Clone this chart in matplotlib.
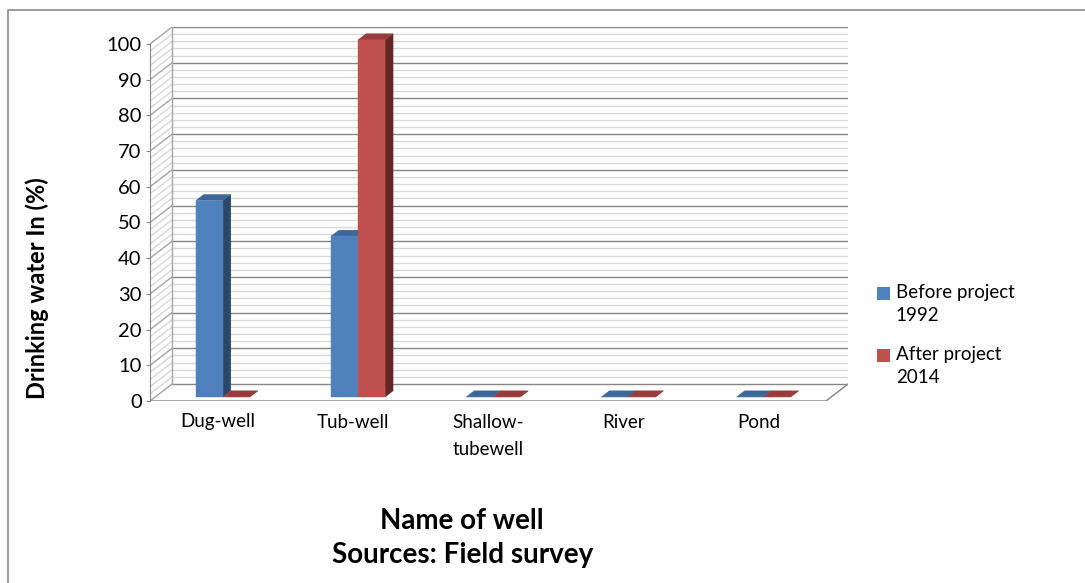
import numpy as np
import matplotlib.pyplot as plt
from matplotlib.patches import Polygon, Rectangle, Patch
from matplotlib.legend_handler import HandlerPatch

plt.rcParams["font.family"] = ["Lato", "DejaVu Sans"]

# data
wells = ["Dug-well", "Tub-well", "Shallow-\ntubewell", "River", "Pond"]
before_1992 = [55, 45, 0, 0, 0]
after_2014 = [0, 100, 0, 0, 0]
series_names = ["Before project\n1992", "After project\n2014"]

# colours: front, side, top
blue = ("#4f81bd", "#2b4766", "#3e6799")
red = ("#c0504d", "#632624", "#973c3a")

# oblique depth of the fake 3D box (data units)
DX, DY = 0.163, 4.75
F0, F1 = 0.24, 0.6  # bar front / back depth fraction
BW = 0.2

fig = plt.figure(figsize=(10.85, 5.83), dpi=100)
fig.patches.append(Rectangle((8 / 1085, -0.1), 1.2, 1 - 10 / 583 + 0.1,
                             transform=fig.transFigure, fill=False,
                             edgecolor="#8c8c8c", lw=1.2))

ax = fig.add_axes([150 / 1085, (583 - 401) / 583, 698 / 1085, 374 / 583])
n = len(wells)
ax.set_xlim(0, n + DX)
ax.set_ylim(0, 100 + DY)
ax.patch.set_visible(False)

# walls and gridlines
for v in range(0, 101, 2):
    major = v % 10 == 0
    c = "#868686" if major else "#d9d9d9"
    ax.plot([DX, n + DX], [v + DY, v + DY], color=c, lw=1.0, zorder=1)
    ax.plot([0, DX], [v, v + DY], color="#a6a6a6" if major else "#d9d9d9",
            lw=1.0, zorder=1)
ax.plot([DX, DX], [DY, 100 + DY], color="#a6a6a6", lw=1.0, zorder=1)
ax.plot([0, n, n + DX], [0, 0, DY], color="#868686", lw=1.0, zorder=2)


def bar3d(x0, v, cols):
    x1 = x0 + BW
    front = [(x0 + F0 * DX, F0 * DY), (x1 + F0 * DX, F0 * DY),
             (x1 + F0 * DX, v + F0 * DY), (x0 + F0 * DX, v + F0 * DY)]
    side = [(x1 + F0 * DX, F0 * DY), (x1 + F1 * DX, F1 * DY),
            (x1 + F1 * DX, v + F1 * DY), (x1 + F0 * DX, v + F0 * DY)]
    top = [(x0 + F0 * DX, v + F0 * DY), (x1 + F0 * DX, v + F0 * DY),
           (x1 + F1 * DX, v + F1 * DY), (x0 + F1 * DX, v + F1 * DY)]
    for pts, c in zip([side, top, front], [cols[1], cols[2], cols[0]]):
        ax.add_patch(Polygon(pts, closed=True, facecolor=c, edgecolor=c,
                             lw=0.3, zorder=3))


for i in range(n):
    c = i + 0.5
    bar3d(c - BW, before_1992[i], blue)
    bar3d(c, after_2014[i], red)

# axis
ax.spines[["top", "right", "bottom"]].set_visible(False)
ax.spines["left"].set_bounds(0, 100)
ax.spines["left"].set_color("#868686")
ax.set_yticks(range(0, 101, 10))
ax.tick_params(axis="y", length=3, color="#868686", labelsize=14.5, pad=3)
ax.set_xticks(np.arange(n) + 0.5)
ax.set_xticklabels(wells, fontsize=13.5, va="top", linespacing=1.75)
ax.tick_params(axis="x", length=0, pad=9)

fig.text(37 / 1085, 1 - 288 / 583, "Drinking water In (%)", rotation=90,
         ha="center", va="center", fontsize=17, fontweight="bold")
fig.text(462 / 1085, 1 - 521 / 583, "Name of well", ha="center",
         va="center", fontsize=20, fontweight="bold")
fig.text(463 / 1085, 1 - 555 / 583, "Sources: Field survey", ha="center",
         va="center", fontsize=20, fontweight="bold")


# legend square next to the first line of a two-line label
def top_square(legend, orig_handle, xdescent, ydescent, width, height,
               fontsize):
    return Rectangle((-xdescent, -ydescent + 0.6 * fontsize), width, height)


handles = [Patch(facecolor=blue[0]), Patch(facecolor=red[0])]
fig.legend(handles, series_names, loc="center left",
           bbox_to_anchor=(860 / 1085, 1 - 335 / 583), frameon=False,
           fontsize=13.5, handlelength=0.7, handleheight=0.7,
           handletextpad=0.3, labelspacing=1.15,
           handler_map={Patch: HandlerPatch(patch_func=top_square)})
for t in fig.legends[0].get_texts():
    t.set_linespacing(1.45)

fig.savefig("out.png", dpi=100)
